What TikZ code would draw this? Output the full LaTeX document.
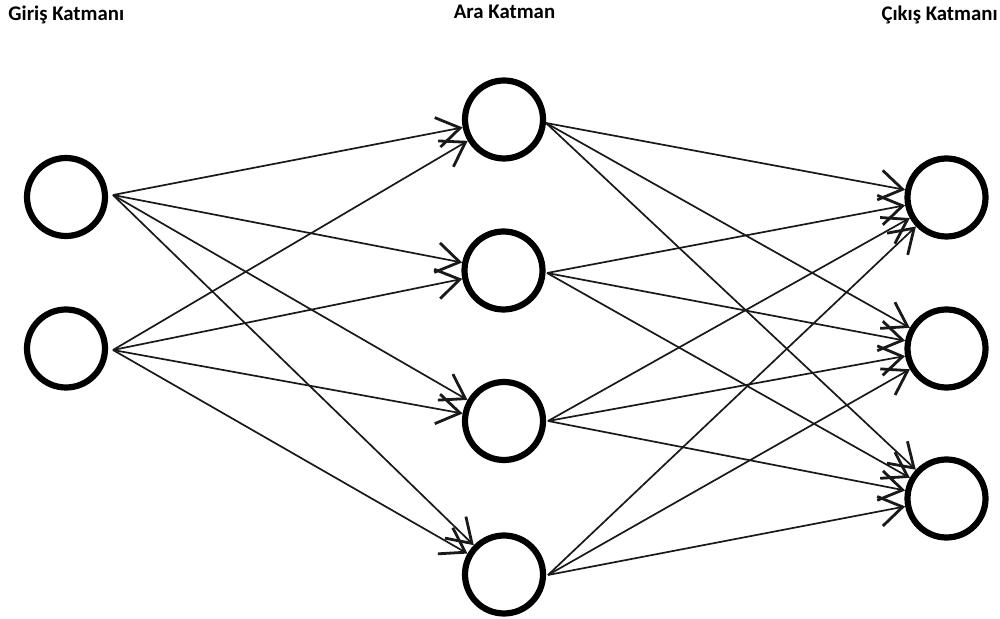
\documentclass[tikz,border=0pt]{standalone}
\usepackage{fontspec}
\setmainfont{Carlito}
\usetikzlibrary{arrows.meta}

\tikzset{
  neuron/.style={circle, draw=black, line width=3.1pt, minimum size=39pt, inner sep=0pt, fill=white},
  conn/.style={draw=black!90, line width=0.85pt,
    -{Straight Barb[length=11.5pt,width=15pt,line width=1.4pt]}},
  layertitle/.style={font=\fontsize{10.4pt}{12.5pt}\selectfont\bfseries, inner sep=0pt}
}

\begin{document}
\begin{tikzpicture}[x=0.5pt,y=-0.5pt]
  \fill[white] (0,0) rectangle (1000,619);
  \useasboundingbox (0,0) rectangle (1000,619);

  % layer titles
  \node[layertitle, anchor=base west] (tin)  at (8,21)    {Giriş Katmanı};
  \node[layertitle, anchor=base]      (thid) at (504.5,19) {Ara Katman};
  \node[layertitle, anchor=base east] (tout) at (998,21)  {Çıkış Katmanı};

  % input layer
  \node[neuron] (i1) at (66,197) {};
  \node[neuron] (i2) at (66,348.5) {};

  % hidden layer
  \node[neuron] (h1) at (504,119.5) {};
  \node[neuron] (h2) at (503.5,270.5) {};
  \node[neuron] (h3) at (504,421) {};
  \node[neuron] (h4) at (504,574.5) {};

  % output layer
  \node[neuron] (o1) at (946.5,197.5) {};
  \node[neuron] (o2) at (946.5,348.5) {};
  \node[neuron] (o3) at (946.5,498.5) {};

  % points where the outgoing connectors leave each neuron
  \coordinate (i1o) at (113,195);
  \coordinate (i2o) at (113,350);
  \coordinate (h1o) at (546,123);
  \coordinate (h2o) at (547,273);
  \coordinate (h3o) at (548,421);
  \coordinate (h4o) at (548,575);

  % input -> hidden
  \foreach \s in {i1o,i2o}
    \foreach \t in {h1,h2,h3,h4}
      \draw[conn] (\s) -- (\t);

  % hidden -> output
  \foreach \s in {h1o,h2o,h3o,h4o}
    \foreach \t in {o1,o2,o3}
      \draw[conn] (\s) -- (\t);
\end{tikzpicture}
\end{document}
